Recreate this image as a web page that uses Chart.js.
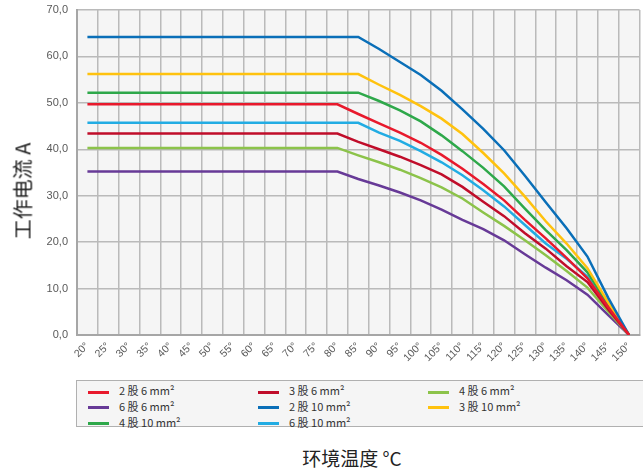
<!DOCTYPE html>
<html>
<head>
<meta charset="utf-8">
<script src="https://cdn.jsdelivr.net/npm/chart.js@4.4.1/dist/chart.umd.min.js"></script>
<style>
    html, body { margin: 0; padding: 0; background: #fff; overflow: hidden; }
    #wrap { position: relative; width: 643px; height: 471px; overflow: hidden; }
    #plot { position: absolute; left: 0; top: 0; width: 643px; height: 372px; }
    #yTitle {
        position: absolute; left: 22px; top: 191px;
        transform: translate(-50%, -50%) rotate(-90deg);
        font: 20px "Noto Sans CJK SC", sans-serif; color: #222; white-space: nowrap;
    }
    #legend {
        position: absolute; left: 76px; top: 380px; width: 580px; height: 47px;
        background: #f5f5f5; border: 1px solid #b0b0b0; box-sizing: border-box;
    }
    .item {
        position: absolute; height: 14px; line-height: 14px;
        font: 11px "Noto Sans CJK SC", sans-serif; color: #333; white-space: nowrap;
    }
    .item i { display: inline-block; width: 21px; height: 3px; vertical-align: middle; margin-right: 10px; }
    #xTitle {
        position: absolute; left: 352px; top: 457px; transform: translate(-50%, -50%);
        font: 19px "Noto Sans CJK SC", sans-serif; color: #222; white-space: nowrap;
    }
</style>
</head>
<body>
<div id="wrap">
    <div id="plot"><canvas id="deratingChart"></canvas></div>
    <div id="yTitle">工作电流 A</div>
    <div id="legend"></div>
    <div id="xTitle">环境温度 °C</div>
</div>
<script>
// Ambient temperature categories (°C)
const TEMPS = ['20°', '25°', '30°', '35°', '40°', '45°', '50°', '55°', '60°', '65°', '70°', '75°', '80°', '85°',
    '90°', '95°', '100°', '105°', '110°', '115°', '120°', '125°', '130°', '135°', '140°', '145°', '150°'];

// Working current (A) per cable configuration
const CUR_2x6 = [49.7, 49.7, 49.7, 49.7, 49.7, 49.7, 49.7, 49.7, 49.7, 49.7, 49.7, 49.7, 49.7,
    47.6, 45.6, 43.6, 41.4, 38.8, 35.8, 32.5, 29.0, 24.8, 20.8, 16.6, 12.2, 6.0, 0];
const CUR_3x6 = [43.4, 43.4, 43.4, 43.4, 43.4, 43.4, 43.4, 43.4, 43.4, 43.4, 43.4, 43.4, 43.4,
    41.6, 40.0, 38.4, 36.6, 34.6, 31.9, 28.7, 25.6, 21.9, 18.6, 14.8, 11.4, 5.5, 0];
const CUR_4x6 = [40.3, 40.3, 40.3, 40.3, 40.3, 40.3, 40.3, 40.3, 40.3, 40.3, 40.3, 40.3, 40.3,
    38.7, 37.2, 35.6, 33.8, 31.8, 29.4, 26.4, 23.5, 20.4, 17.2, 13.8, 10.2, 5.0, 0];
const CUR_6x6 = [35.2, 35.2, 35.2, 35.2, 35.2, 35.2, 35.2, 35.2, 35.2, 35.2, 35.2, 35.2, 35.2,
    33.6, 32.2, 30.7, 29.0, 27.0, 24.8, 22.8, 20.4, 17.4, 14.5, 11.8, 8.7, 4.3, 0];
const CUR_2x10 = [64.2, 64.2, 64.2, 64.2, 64.2, 64.2, 64.2, 64.2, 64.2, 64.2, 64.2, 64.2, 64.2, 64.2,
    61.6, 58.8, 56.0, 52.6, 48.6, 44.4, 39.8, 34.3, 28.6, 23.0, 16.9, 8.0, 0];
const CUR_3x10 = [56.2, 56.2, 56.2, 56.2, 56.2, 56.2, 56.2, 56.2, 56.2, 56.2, 56.2, 56.2, 56.2, 56.2,
    53.9, 51.7, 49.3, 46.6, 43.3, 39.2, 34.8, 29.8, 24.5, 19.7, 14.4, 7.0, 0];
const CUR_4x10 = [52.2, 52.2, 52.2, 52.2, 52.2, 52.2, 52.2, 52.2, 52.2, 52.2, 52.2, 52.2, 52.2, 52.2,
    50.4, 48.4, 46.0, 43.0, 39.6, 36.0, 32.0, 27.2, 22.6, 18.3, 13.5, 6.5, 0];
const CUR_6x10 = [45.7, 45.7, 45.7, 45.7, 45.7, 45.7, 45.7, 45.7, 45.7, 45.7, 45.7, 45.7, 45.7, 45.7,
    43.6, 41.8, 39.6, 37.2, 34.4, 31.2, 27.7, 23.7, 19.7, 16.4, 12.6, 5.8, 0];

const SERIES = [
    { label: '2 股 6 mm²',  data: CUR_2x6,  color: '#e8192c' },
    { label: '3 股 6 mm²',  data: CUR_3x6,  color: '#c00d2a' },
    { label: '4 股 6 mm²',  data: CUR_4x6,  color: '#8cc34a' },
    { label: '6 股 6 mm²',  data: CUR_6x6,  color: '#673a97' },
    { label: '2 股 10 mm²', data: CUR_2x10, color: '#0a6fb8' },
    { label: '3 股 10 mm²', data: CUR_3x10, color: '#ffc20e' },
    { label: '4 股 10 mm²', data: CUR_4x10, color: '#2ea84a' },
    { label: '6 股 10 mm²', data: CUR_6x10, color: '#22ace3' }
];

const TICK_FONT = { family: '"Liberation Sans", Arial, sans-serif', size: 11 };
const GRID = '#bababa';

// light grey fill behind the plot area
const plotBackground = {
    id: 'plotBackground',
    beforeDraw(chart) {
        const { ctx, chartArea: a } = chart;
        ctx.save();
        ctx.fillStyle = '#f5f5f5';
        ctx.fillRect(a.left, a.top, a.right - a.left, a.bottom - a.top);
        ctx.restore();
    }
};

const chart = new Chart(document.getElementById('deratingChart'), {
    type: 'line',
    data: {
        labels: TEMPS,
        datasets: SERIES.map(s => ({
            label: s.label,
            data: s.data,
            borderColor: s.color,
            backgroundColor: s.color,
            borderWidth: 2.5,
            pointRadius: 0,
            tension: 0,
            fill: false
        }))
    },
    options: {
        responsive: true,
        maintainAspectRatio: false,
        animation: false,
        layout: { padding: { top: 10, right: 0, bottom: 0, left: 0 } },
        plugins: { legend: { display: false }, tooltip: { enabled: false } },
        scales: {
            x: {
                offset: true,
                grid: { offset: true, color: GRID, lineWidth: 1.5, drawTicks: false },
                border: { color: '#a6a6a6', width: 2 },
                ticks: {
                    autoSkip: false, minRotation: 45, maxRotation: 45, padding: 5,
                    color: '#595959', font: { family: TICK_FONT.family, size: 10.5 }
                },
                afterFit: s => { s.height = 37; }
            },
            y: {
                min: 0,
                max: 70,
                grid: { color: GRID, lineWidth: 1.5, drawTicks: false },
                border: { color: '#a6a6a6', width: 2 },
                ticks: {
                    stepSize: 10, padding: 9, color: '#595959', font: TICK_FONT,
                    callback: v => v.toFixed(1).replace('.', ',')
                },
                // fixed axis width; top label may sit in the layout padding
                afterFit: s => { s.width = 77; s.paddingTop = 0; }
            }
        }
    },
    plugins: [plotBackground]
});

// HTML legend: 3 columns, row-major, built from the chart's datasets
const legendEl = document.getElementById('legend');
chart.data.datasets.forEach((ds, i) => {
    const item = document.createElement('div');
    item.className = 'item';
    item.style.left = (11 + (i % 3) * 170) + 'px';
    item.style.top = (1 + Math.floor(i / 3) * 15.8) + 'px';
    item.innerHTML = '<i style="background:' + ds.borderColor + '"></i>' + ds.label;
    legendEl.appendChild(item);
});
</script>
</body>
</html>
